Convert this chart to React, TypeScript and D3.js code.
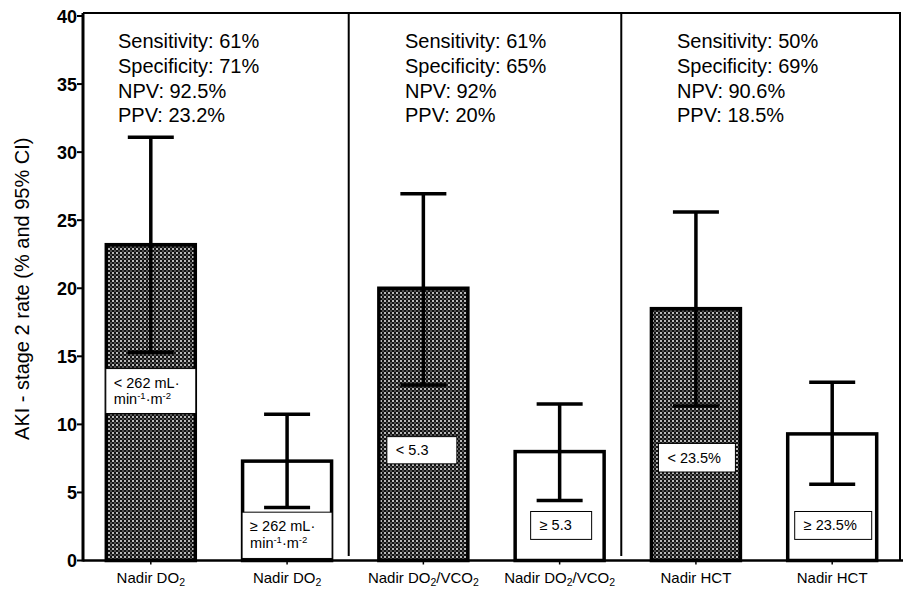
import React from "react";
import * as d3 from "d3";

const categories = ["Nadir DO2 low", "Nadir DO2 high", "Nadir DO2/VCO2 low", "Nadir DO2/VCO2 high", "Nadir HCT low", "Nadir HCT high"];
const xLabelMain = ["Nadir DO", "Nadir DO", "Nadir DO", "Nadir DO", "Nadir HCT", "Nadir HCT"];
const xLabelSub = ["2", "2", "2", "2", "", ""];
const xLabelTail = ["", "", "/VCO", "/VCO", "", ""];
const xLabelSub2 = ["", "", "2", "2", "", ""];
const rates = [23.2, 7.3, 20.0, 8.0, 18.5, 9.3];
const ciUpper = [31.1, 10.75, 26.95, 11.5, 25.6, 13.1];
const ciLower = [15.3, 3.9, 12.9, 4.4, 11.35, 5.6];
const hatched = [true, false, true, false, true, false];
const cutLine1 = ["< 262 mL·", "≥ 262 mL·", "< 5.3", "≥ 5.3", "< 23.5%", "≥ 23.5%"];
const cutLine2 = [true, true, false, false, false, false];
const boxTop = [14.1, 3.55, 9.1, 3.6, 8.6, 3.6];
const boxBottom = [10.8, 0.15, 7.1, 1.55, 6.5, 1.55];
const yTicks = [0, 5, 10, 15, 20, 25, 30, 35, 40];
const statLines = [
  ["Sensitivity: 61%", "Specificity: 71%", "NPV: 92.5%", "PPV: 23.2%"],
  ["Sensitivity: 61%", "Specificity: 65%", "NPV: 92%", "PPV: 20%"],
  ["Sensitivity: 50%", "Specificity: 69%", "NPV: 90.6%", "PPV: 18.5%"],
];
const yTitle = "AKI - stage 2 rate (% and 95% CI)";

const W = 912;
const H = 595;
const left = 83;
const right = 900;
const top = 13;
const bottom = 560.5;

const boxOffsets: [number, number][] = [
  [-45, 45],
  [-45, 45],
  [-36.5, 33.5],
  [-29, 32],
  [-37.5, 39.5],
  [-37.5, 39.5],
];

export default function App() {
  const x = d3.scaleBand<string>().domain(categories).range([left, right]).paddingInner(0.325).paddingOuter(0.16);
  const y = d3.scaleLinear().domain([0, 40]).range([bottom, 16]);
  const bw = x.bandwidth();
  const font = "'Liberation Sans', Arial, sans-serif";
  const cx = (i: number) => (x(categories[i]) as number) + bw / 2;
  const dividers = [
    ((x(categories[1]) as number) + bw + (x(categories[2]) as number)) / 2 - 6.5,
    ((x(categories[3]) as number) + bw + (x(categories[4]) as number)) / 2 - 6.5,
  ];
  const statX = [118, 405, 677];
  const capW = 46;

  return (
    <svg width={W} height={H} style={{ position: "absolute", left: 0, top: 0, background: "#fff" }}>
      <defs>
        <pattern id="hatch" width="4" height="4" patternUnits="userSpaceOnUse">
          <rect width="4" height="4" fill="#121212" />
          <rect x="0" y="0" width="2" height="2" fill="#b8b8b8" />
          <rect x="2" y="2" width="2" height="2" fill="#505050" />
        </pattern>
      </defs>
      <rect width={W} height={H} fill="#fff" />

      {/* frame */}
      <line x1={left} x2={right + 1} y1={top} y2={top} stroke="#000" strokeWidth={2} />
      <line x1={right} x2={right} y1={top} y2={bottom} stroke="#000" strokeWidth={2} />
      {dividers.map((d, i) => (
        <line key={i} x1={d} x2={d} y1={top} y2={556} stroke="#000" strokeWidth={2} />
      ))}

      {/* bars */}
      {categories.map((c, i) => (
        <rect
          key={c}
          x={(x(c) as number) + 1.5}
          y={y(rates[i])}
          width={bw - 3}
          height={bottom - y(rates[i])}
          fill={hatched[i] ? "url(#hatch)" : "#fff"}
          stroke="#000"
          strokeWidth={3.5}
        />
      ))}

      {/* cutoff boxes */}
      {categories.map((c, i) => {
        const x0 = cx(i) + boxOffsets[i][0];
        const x1 = cx(i) + boxOffsets[i][1];
        const yt = y(boxTop[i]);
        const yb = y(boxBottom[i]);
        const two = cutLine2[i];
        return (
          <g key={c}>
            <rect x={x0} y={yt} width={x1 - x0} height={yb - yt} fill="#fff" stroke="#000" strokeWidth={1} />
            {two ? (
              <text x={x0 + 8} y={yt + 19} fontFamily={font} fontSize={14.5} fill="#000">
                <tspan>{cutLine1[i]}</tspan>
                <tspan x={x0 + 8} dy={16.5}>min</tspan>
                <tspan fontSize={9.5} dy={-5}>-1</tspan>
                <tspan dy={5}>·m</tspan>
                <tspan fontSize={9.5} dy={-5}>-2</tspan>
              </text>
            ) : (
              <text x={x0 + 9} y={(yt + yb) / 2 + 5} fontFamily={font} fontSize={14.5} fill="#000">
                {cutLine1[i]}
              </text>
            )}
          </g>
        );
      })}

      {/* error bars */}
      {categories.map((c, i) => (
        <g key={c} stroke="#000" strokeWidth={3.5}>
          <line x1={cx(i)} x2={cx(i)} y1={y(ciUpper[i])} y2={y(ciLower[i])} />
          <line x1={cx(i) - capW / 2} x2={cx(i) + capW / 2} y1={y(ciUpper[i])} y2={y(ciUpper[i])} />
          <line x1={cx(i) - capW / 2} x2={cx(i) + capW / 2} y1={y(ciLower[i])} y2={y(ciLower[i])} />
        </g>
      ))}

      {/* axes */}
      <line x1={left} x2={903} y1={bottom} y2={bottom} stroke="#000" strokeWidth={2.5} />
      <line x1={left} x2={left} y1={top} y2={bottom + 1} stroke="#000" strokeWidth={3} />
      {yTicks.map((t) => (
        <g key={t}>
          <line x1={left - 6} x2={left} y1={y(t)} y2={y(t)} stroke="#000" strokeWidth={2} />
          <text x={left - 6} y={y(t) + 6.5} textAnchor="end" fontFamily={font} fontWeight="bold" fontSize={18} fill="#000">
            {t}
          </text>
        </g>
      ))}
      {categories.map((c, i) => (
        <line key={c} x1={cx(i)} x2={cx(i)} y1={bottom} y2={bottom + 4} stroke="#000" strokeWidth={1.5} />
      ))}
      {categories.map((c, i) => (
        <text key={c} x={cx(i)} y={583} textAnchor="middle" fontFamily={font} fontSize={15} fill="#000">
          <tspan>{xLabelMain[i]}</tspan>
          {xLabelSub[i] && <tspan fontSize={10.5} dy={3}>{xLabelSub[i]}</tspan>}
          {xLabelTail[i] && <tspan dy={-3}>{xLabelTail[i]}</tspan>}
          {xLabelSub2[i] && <tspan fontSize={10.5} dy={3}>{xLabelSub2[i]}</tspan>}
        </text>
      ))}

      {/* y title */}
      <text
        transform={`translate(29, ${(top + bottom) / 2 + 2}) rotate(-90)`}
        textAnchor="middle"
        fontFamily={font}
        fontSize={20}
        fill="#000"
      >
        {yTitle}
      </text>

      {/* stats */}
      {statLines.map((lines, k) =>
        lines.map((s, j) => (
          <text key={`${k}-${j}`} x={statX[k]} y={48 + j * 24.8} fontFamily={font} fontSize={20} fill="#000">
            {s}
          </text>
        ))
      )}
    </svg>
  );
}
